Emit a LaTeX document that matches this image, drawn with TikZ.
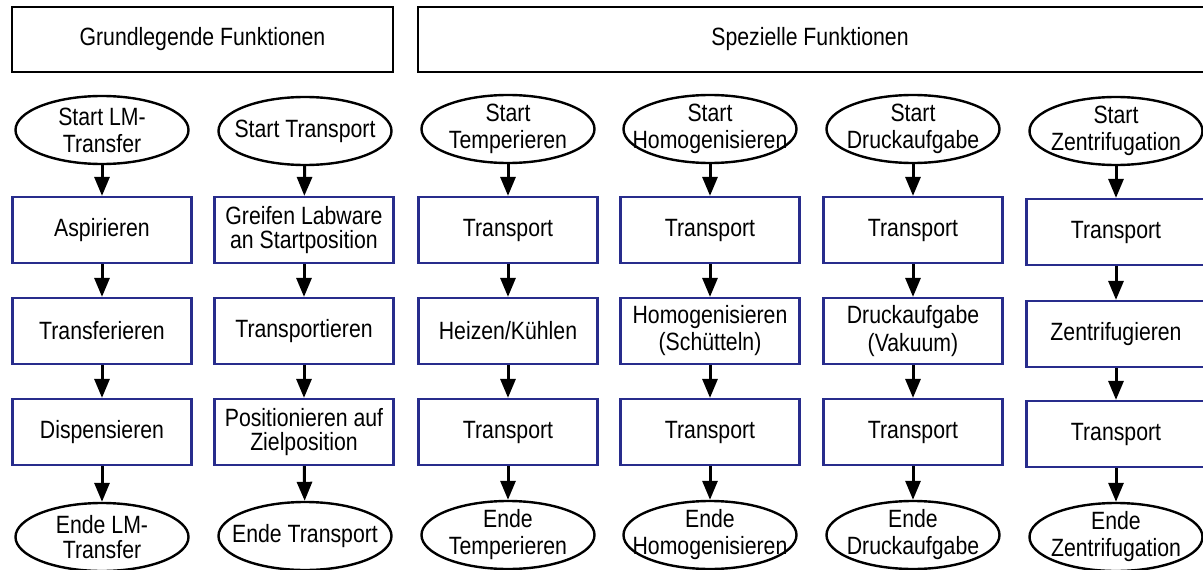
\documentclass[tikz,border=0pt]{standalone}
\usepackage{fontspec}
\setmainfont[FakeStretch=0.85]{Liberation Sans}
\usetikzlibrary{arrows.meta,shapes.geometric}
\definecolor{boxblue}{RGB}{40,44,140}
\begin{document}
\begin{tikzpicture}[x=1pt,y=-1pt,
  every node/.style={font=\fontsize{25}{27}\selectfont, align=center},
  hdr/.style={draw=black, line width=2.5pt, minimum height=65pt, inner sep=0pt},
  act/.style={draw=boxblue, line width=2.2pt, minimum width=179pt, minimum height=66pt, inner sep=0pt},
  oval/.style={draw=black, line width=2.4pt, ellipse, minimum width=173pt, minimum height=68pt, inner sep=0pt},
  lbl/.style={inner sep=0pt},
  flow/.style={line width=3pt, -{Triangle[length=19pt,width=15pt]}}]
\useasboundingbox (0,0) rectangle (1203,570);

% headers
\node[hdr, minimum width=381pt] (h1) at (202.5,39.5) {Grundlegende Funktionen};
\node[hdr, minimum width=792pt] (h2) at (814,39.5) {};
\node[lbl] (h2t) at (810,39.5) {Spezielle Funktionen};

% column 1
\node[oval] (s1) at (102,130) {};
\node[lbl] (s1t) at (s1) {Start LM-\\Transfer};
\node[act] (a1) at (102,230) {Aspirieren};
\node[act] (b1) at (102,331) {Transferieren};
\node[act] (c1) at (102,432) {Dispensieren};
\node[oval] (e1) at (102,537) {};
\node[lbl, font=\fontsize{25}{25}\selectfont] (e1t) at (e1) {Ende LM-\\Transfer};

% column 2
\node[oval] (s2) at (305,131) {};
\node[lbl] (s2t) at (s2) {Start Transport};
\node[act] (a2) at (304,230) {};
\node[lbl, font=\fontsize{25}{23.5}\selectfont] (a2t) at (a2) {Greifen Labware\\an Startposition};
\node[act] (b2) at (304,331) {Transportieren};
\node[act] (c2) at (304,432) {};
\node[lbl, font=\fontsize{25}{24}\selectfont] (c2t) at (c2) {Positionieren auf\\Zielposition};
\node[oval] (e2) at (305,536) {};
\node[lbl] (e2t) at (e2) {Ende Transport};

% column 3
\node[oval] (s3) at (508,129) {};
\node[lbl] (s3t) at (s3) {Start\\Temperieren};
\node[act] (a3) at (508,230) {Transport};
\node[act] (b3) at (508,331) {Heizen/Kühlen};
\node[act] (c3) at (508,432) {Transport};
\node[oval] (e3) at (508,535) {};
\node[lbl] (e3t) at (e3) {Ende\\Temperieren};

% column 4
\node[oval] (s4) at (710,129) {};
\node[lbl] (s4t) at (s4) {Start\\Homogenisieren};
\node[act] (a4) at (710,230) {Transport};
\node[act] (b4) at (710,331) {Homogenisieren\\(Schütteln)};
\node[act] (c4) at (710,432) {Transport};
\node[oval] (e4) at (710,535) {};
\node[lbl] (e4t) at (e4) {Ende\\Homogenisieren};

% column 5
\node[oval] (s5) at (913,129) {};
\node[lbl] (s5t) at (s5) {Start\\Druckaufgabe};
\node[act] (a5) at (913,230) {Transport};
\node[act, font=\fontsize{25}{28}\selectfont] (b5) at (913,331) {Druckaufgabe\\(Vakuum)};
\node[act] (c5) at (913,432) {Transport};
\node[oval] (e5) at (913,535) {};
\node[lbl] (e5t) at (e5) {Ende\\Druckaufgabe};

% column 6
\node[oval] (s6) at (1116,131) {};
\node[lbl] (s6t) at (s6) {Start\\Zentrifugation};
\node[act] (a6) at (1116,232) {Transport};
\node[act] (b6) at (1116,334) {Zentrifugieren};
\node[act] (c6) at (1116,434) {Transport};
\node[oval] (e6) at (1116,537) {};
\node[lbl] (e6t) at (e6) {Ende\\Zentrifugation};

% connectors
\foreach \i in {1,...,6}{
  \draw[flow] (s\i) -- (a\i);
  \draw[flow] (a\i) -- (b\i);
  \draw[flow] (b\i) -- (c\i);
  \draw[flow] (c\i) -- (e\i);
}
\end{tikzpicture}
\end{document}
